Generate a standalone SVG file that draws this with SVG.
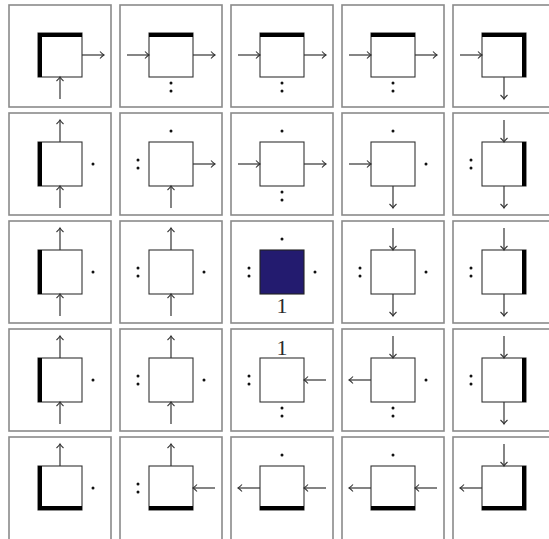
<svg xmlns="http://www.w3.org/2000/svg" width="549" height="539" viewBox="0 0 549 539">
<style>
.cell{fill:#fff;stroke:#8a8a8a;stroke-width:1.6}
.box{fill:#fff;stroke:#333;stroke-width:1.1}
.fill{fill:#231b6f;stroke:#222;stroke-width:1.1}
.tk{fill:#000}
.ar{stroke:#333;stroke-width:1.2;fill:none;marker-end:url(#ah)}
.d{fill:#111}
.lbl{font-family:"Liberation Serif",serif;font-size:22px;fill:#2a2a2a;text-anchor:middle}
</style>
<defs>
<marker id="ah" viewBox="-6 -5 8 10" refX="0" refY="0" markerWidth="8" markerHeight="10" markerUnits="userSpaceOnUse" orient="auto">
<path d="M-4,-3.5 Q-1.5,-0.8 0,0 Q-1.5,0.8 -4,3.5" fill="none" stroke="#333" stroke-width="1.1"/>
</marker>
</defs>
<rect width="549" height="539" fill="#fff"/>
<g id="grid">
<rect class="cell" x="9" y="5" width="102" height="102"/><rect class="cell" x="120" y="5" width="102" height="102"/><rect class="cell" x="231" y="5" width="102" height="102"/><rect class="cell" x="342" y="5" width="102" height="102"/><rect class="cell" x="453" y="5" width="102" height="102"/>
<rect class="cell" x="9" y="113" width="102" height="102"/><rect class="cell" x="120" y="113" width="102" height="102"/><rect class="cell" x="231" y="113" width="102" height="102"/><rect class="cell" x="342" y="113" width="102" height="102"/><rect class="cell" x="453" y="113" width="102" height="102"/>
<rect class="cell" x="9" y="221" width="102" height="102"/><rect class="cell" x="120" y="221" width="102" height="102"/><rect class="cell" x="231" y="221" width="102" height="102"/><rect class="cell" x="342" y="221" width="102" height="102"/><rect class="cell" x="453" y="221" width="102" height="102"/>
<rect class="cell" x="9" y="329" width="102" height="102"/><rect class="cell" x="120" y="329" width="102" height="102"/><rect class="cell" x="231" y="329" width="102" height="102"/><rect class="cell" x="342" y="329" width="102" height="102"/><rect class="cell" x="453" y="329" width="102" height="102"/>
<rect class="cell" x="9" y="437" width="102" height="110"/><rect class="cell" x="120" y="437" width="102" height="110"/><rect class="cell" x="231" y="437" width="102" height="110"/><rect class="cell" x="342" y="437" width="102" height="110"/><rect class="cell" x="453" y="437" width="102" height="110"/>
</g>

<!-- Row 1 -->
<g id="n11" transform="translate(60,55)"><rect class="box" x="-22" y="-22" width="44" height="44"/><rect class="tk" x="-22" y="-22" width="44" height="4"/><rect class="tk" x="-22" y="-22" width="4" height="44"/></g>
<g id="n12" transform="translate(171,55)"><rect class="box" x="-22" y="-22" width="44" height="44"/><rect class="tk" x="-22" y="-22" width="44" height="4"/><circle class="d" cx="0" cy="28" r="1.5"/><circle class="d" cx="0" cy="36" r="1.5"/></g>
<g id="n13" transform="translate(282,55)"><rect class="box" x="-22" y="-22" width="44" height="44"/><rect class="tk" x="-22" y="-22" width="44" height="4"/><circle class="d" cx="0" cy="28" r="1.5"/><circle class="d" cx="0" cy="36" r="1.5"/></g>
<g id="n14" transform="translate(393,55)"><rect class="box" x="-22" y="-22" width="44" height="44"/><rect class="tk" x="-22" y="-22" width="44" height="4"/><circle class="d" cx="0" cy="28" r="1.5"/><circle class="d" cx="0" cy="36" r="1.5"/></g>
<g id="n15" transform="translate(504,55)"><rect class="box" x="-22" y="-22" width="44" height="44"/><rect class="tk" x="-22" y="-22" width="44" height="4"/><rect class="tk" x="18" y="-22" width="4" height="44"/></g>

<!-- Row 2 -->
<g id="n21" transform="translate(60,164)"><rect class="box" x="-22" y="-22" width="44" height="44"/><rect class="tk" x="-22" y="-22" width="4" height="44"/><circle class="d" cx="33" cy="0" r="1.5"/></g>
<g id="n22" transform="translate(171,164)"><rect class="box" x="-22" y="-22" width="44" height="44"/><circle class="d" cx="0" cy="-33" r="1.5"/><circle class="d" cx="-33" cy="-4" r="1.5"/><circle class="d" cx="-33" cy="4" r="1.5"/></g>
<g id="n23" transform="translate(282,164)"><rect class="box" x="-22" y="-22" width="44" height="44"/><circle class="d" cx="0" cy="-33" r="1.5"/><circle class="d" cx="0" cy="28" r="1.5"/><circle class="d" cx="0" cy="36" r="1.5"/></g>
<g id="n24" transform="translate(393,164)"><rect class="box" x="-22" y="-22" width="44" height="44"/><circle class="d" cx="0" cy="-33" r="1.5"/><circle class="d" cx="33" cy="0" r="1.5"/></g>
<g id="n25" transform="translate(504,164)"><rect class="box" x="-22" y="-22" width="44" height="44"/><rect class="tk" x="18" y="-22" width="4" height="44"/><circle class="d" cx="-33" cy="-4" r="1.5"/><circle class="d" cx="-33" cy="4" r="1.5"/></g>

<!-- Row 3 -->
<g id="n31" transform="translate(60,272)"><rect class="box" x="-22" y="-22" width="44" height="44"/><rect class="tk" x="-22" y="-22" width="4" height="44"/><circle class="d" cx="33" cy="0" r="1.5"/></g>
<g id="n32" transform="translate(171,272)"><rect class="box" x="-22" y="-22" width="44" height="44"/><circle class="d" cx="33" cy="0" r="1.5"/><circle class="d" cx="-33" cy="-4" r="1.5"/><circle class="d" cx="-33" cy="4" r="1.5"/></g>
<g id="n33" transform="translate(282,272)"><rect class="fill" x="-22" y="-22" width="44" height="44"/><circle class="d" cx="0" cy="-33" r="1.5"/><circle class="d" cx="33" cy="0" r="1.5"/><circle class="d" cx="-33" cy="-4" r="1.5"/><circle class="d" cx="-33" cy="4" r="1.5"/><text class="lbl" x="0" y="41">1</text></g>
<g id="n34" transform="translate(393,272)"><rect class="box" x="-22" y="-22" width="44" height="44"/><circle class="d" cx="33" cy="0" r="1.5"/><circle class="d" cx="-33" cy="-4" r="1.5"/><circle class="d" cx="-33" cy="4" r="1.5"/></g>
<g id="n35" transform="translate(504,272)"><rect class="box" x="-22" y="-22" width="44" height="44"/><rect class="tk" x="18" y="-22" width="4" height="44"/><circle class="d" cx="-33" cy="-4" r="1.5"/><circle class="d" cx="-33" cy="4" r="1.5"/></g>

<!-- Row 4 -->
<g id="n41" transform="translate(60,380)"><rect class="box" x="-22" y="-22" width="44" height="44"/><rect class="tk" x="-22" y="-22" width="4" height="44"/><circle class="d" cx="33" cy="0" r="1.5"/></g>
<g id="n42" transform="translate(171,380)"><rect class="box" x="-22" y="-22" width="44" height="44"/><circle class="d" cx="33" cy="0" r="1.5"/><circle class="d" cx="-33" cy="-4" r="1.5"/><circle class="d" cx="-33" cy="4" r="1.5"/></g>
<g id="n43" transform="translate(282,380)"><rect class="box" x="-22" y="-22" width="44" height="44"/><text class="lbl" x="0" y="-25">1</text><circle class="d" cx="-33" cy="-4" r="1.5"/><circle class="d" cx="-33" cy="4" r="1.5"/><circle class="d" cx="0" cy="28" r="1.5"/><circle class="d" cx="0" cy="36" r="1.5"/></g>
<g id="n44" transform="translate(393,380)"><rect class="box" x="-22" y="-22" width="44" height="44"/><circle class="d" cx="33" cy="0" r="1.5"/><circle class="d" cx="0" cy="28" r="1.5"/><circle class="d" cx="0" cy="36" r="1.5"/></g>
<g id="n45" transform="translate(504,380)"><rect class="box" x="-22" y="-22" width="44" height="44"/><rect class="tk" x="18" y="-22" width="4" height="44"/><circle class="d" cx="-33" cy="-4" r="1.5"/><circle class="d" cx="-33" cy="4" r="1.5"/></g>

<!-- Row 5 -->
<g id="n51" transform="translate(60,488)"><rect class="box" x="-22" y="-22" width="44" height="44"/><rect class="tk" x="-22" y="-22" width="4" height="44"/><rect class="tk" x="-22" y="18" width="44" height="4"/><circle class="d" cx="33" cy="0" r="1.5"/></g>
<g id="n52" transform="translate(171,488)"><rect class="box" x="-22" y="-22" width="44" height="44"/><rect class="tk" x="-22" y="18" width="44" height="4"/><circle class="d" cx="-33" cy="-4" r="1.5"/><circle class="d" cx="-33" cy="4" r="1.5"/></g>
<g id="n53" transform="translate(282,488)"><rect class="box" x="-22" y="-22" width="44" height="44"/><rect class="tk" x="-22" y="18" width="44" height="4"/><circle class="d" cx="0" cy="-33" r="1.5"/></g>
<g id="n54" transform="translate(393,488)"><rect class="box" x="-22" y="-22" width="44" height="44"/><rect class="tk" x="-22" y="18" width="44" height="4"/><circle class="d" cx="0" cy="-33" r="1.5"/></g>
<g id="n55" transform="translate(504,488)"><rect class="box" x="-22" y="-22" width="44" height="44"/><rect class="tk" x="18" y="-22" width="4" height="44"/><rect class="tk" x="-22" y="18" width="44" height="4"/></g>

<g id="connectors">
<line class="ar" x1="82" y1="55" x2="104" y2="55"/>
<line class="ar" x1="60" y1="99" x2="60" y2="77"/>
<line class="ar" x1="127" y1="55" x2="149" y2="55"/>
<line class="ar" x1="193" y1="55" x2="215" y2="55"/>
<line class="ar" x1="238" y1="55" x2="260" y2="55"/>
<line class="ar" x1="304" y1="55" x2="326" y2="55"/>
<line class="ar" x1="349" y1="55" x2="371" y2="55"/>
<line class="ar" x1="415" y1="55" x2="437" y2="55"/>
<line class="ar" x1="460" y1="55" x2="482" y2="55"/>
<line class="ar" x1="504" y1="77" x2="504" y2="99"/>
<line class="ar" x1="60" y1="142" x2="60" y2="120"/>
<line class="ar" x1="60" y1="208" x2="60" y2="186"/>
<line class="ar" x1="193" y1="164" x2="215" y2="164"/>
<line class="ar" x1="171" y1="208" x2="171" y2="186"/>
<line class="ar" x1="238" y1="164" x2="260" y2="164"/>
<line class="ar" x1="304" y1="164" x2="326" y2="164"/>
<line class="ar" x1="349" y1="164" x2="371" y2="164"/>
<line class="ar" x1="393" y1="186" x2="393" y2="208"/>
<line class="ar" x1="504" y1="120" x2="504" y2="142"/>
<line class="ar" x1="504" y1="186" x2="504" y2="208"/>
<line class="ar" x1="60" y1="250" x2="60" y2="228"/>
<line class="ar" x1="60" y1="316" x2="60" y2="294"/>
<line class="ar" x1="171" y1="250" x2="171" y2="228"/>
<line class="ar" x1="171" y1="316" x2="171" y2="294"/>
<line class="ar" x1="393" y1="228" x2="393" y2="250"/>
<line class="ar" x1="393" y1="294" x2="393" y2="316"/>
<line class="ar" x1="504" y1="228" x2="504" y2="250"/>
<line class="ar" x1="504" y1="294" x2="504" y2="316"/>
<line class="ar" x1="60" y1="358" x2="60" y2="336"/>
<line class="ar" x1="60" y1="424" x2="60" y2="402"/>
<line class="ar" x1="171" y1="358" x2="171" y2="336"/>
<line class="ar" x1="171" y1="424" x2="171" y2="402"/>
<line class="ar" x1="326" y1="380" x2="304" y2="380"/>
<line class="ar" x1="393" y1="336" x2="393" y2="358"/>
<line class="ar" x1="371" y1="380" x2="349" y2="380"/>
<line class="ar" x1="504" y1="336" x2="504" y2="358"/>
<line class="ar" x1="504" y1="402" x2="504" y2="424"/>
<line class="ar" x1="60" y1="466" x2="60" y2="444"/>
<line class="ar" x1="171" y1="466" x2="171" y2="444"/>
<line class="ar" x1="215" y1="488" x2="193" y2="488"/>
<line class="ar" x1="260" y1="488" x2="238" y2="488"/>
<line class="ar" x1="326" y1="488" x2="304" y2="488"/>
<line class="ar" x1="371" y1="488" x2="349" y2="488"/>
<line class="ar" x1="437" y1="488" x2="415" y2="488"/>
<line class="ar" x1="504" y1="444" x2="504" y2="466"/>
<line class="ar" x1="482" y1="488" x2="460" y2="488"/>
</g>
</svg>
